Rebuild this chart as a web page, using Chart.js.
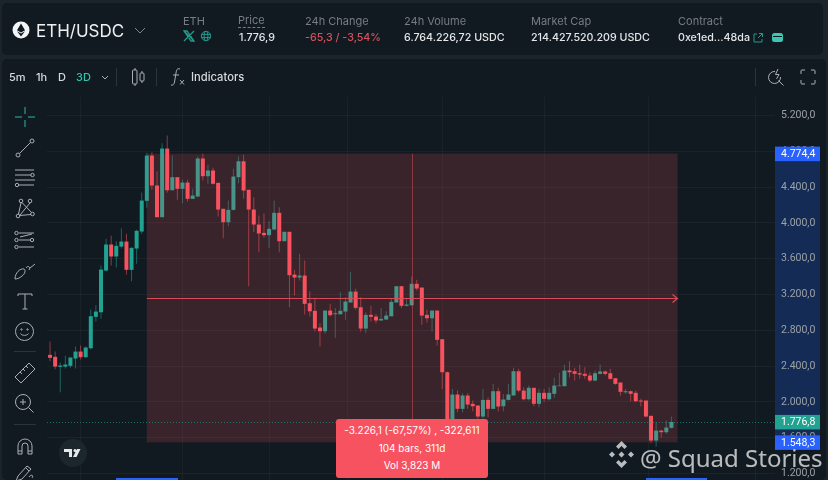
<!DOCTYPE html>
<html><head><meta charset="utf-8">
<script src="https://cdn.jsdelivr.net/npm/chart.js@4/dist/chart.umd.min.js"></script>
<style>
html,body{margin:0;padding:0;width:828px;height:480px;overflow:hidden;background:#1a242a;font-family:Inter,Roboto,sans-serif}
#wrap{position:relative;width:828px;height:480px;overflow:hidden}
.panel{position:absolute;background:#101a20;border-radius:5px}
canvas{position:absolute;left:0;top:0}
.t{position:absolute;white-space:nowrap;line-height:14px}
.l{color:#777d82;font-size:11px}
.v{color:#e4e6e8;font-size:10.7px;font-weight:500}
svg.i{position:absolute;overflow:visible;fill:none;stroke:#aab0b5;stroke-width:1}
#tip{position:absolute;left:336px;top:419px;width:152px;height:59px;background:#f7525f;border-radius:3px;color:#fff;font-size:10px;text-align:center;line-height:17.5px;padding-top:3px;box-sizing:border-box}
#wm{position:absolute;left:640px;top:441px;font:24px "Noto Sans",sans-serif;color:rgba(235,235,235,.78);white-space:nowrap}
.strip{position:absolute;top:478px;height:2px;background:#2962ff}
</style></head><body><div id="wrap">
<div class="panel" style="left:2px;top:3px;width:821px;height:52px"></div>
<div class="panel" style="left:2px;top:59px;width:824px;height:421px"></div>
<canvas id="c" width="828" height="480"></canvas>

<svg class="i" style="left:12px;top:21px" width="18" height="18"><circle cx="9" cy="9" r="8.5" fill="#f4f5f6" stroke="none"/><path d="M9 2.5L5 9.2L9 11.5L13 9.2Z M5 10.2L9 15.5L13 10.2L9 12.6Z" fill="#101a20" stroke="none"/></svg>
<div class="t" style="left:36px;top:21px;line-height:20px;font-size:17px;color:#eef0f1">ETH/USDC</div>
<svg class="i" style="left:134px;top:27px" width="12" height="7"><path d="M1 1L6 6L11 1" stroke="#7d8488"/></svg>
<div class="t l" style="left:183px;top:14px">ETH</div>
<svg class="i" style="left:184px;top:31px;stroke:#259a8c;stroke-width:1.3" width="10" height="10"><path d="M0 0L10 10M10 0L0 10M0 0H3L10 10H7Z"/></svg>
<svg class="i" style="left:201px;top:31px;stroke:#259a8c" width="10" height="10"><circle cx="5" cy="5" r="4.7"/><ellipse cx="5" cy="5" rx="2" ry="4.7"/><path d="M0.5 3.4H9.5M0.5 6.6H9.5"/></svg>
<div class="t l" style="left:238px;top:14px;border-bottom:1px dashed #777d82;line-height:13px">Price</div>
<div class="t v" style="left:239px;top:31px">1.776,9</div>
<div class="t l" style="left:305px;top:14px">24h Change</div>
<div class="t v" style="left:305px;top:31px;color:#d9505c">-65,3 / -3,54%</div>
<div class="t l" style="left:404px;top:14px">24h Volume</div>
<div class="t v" style="left:404px;top:31px">6.764.226,72 USDC</div>
<div class="t l" style="left:531px;top:14px">Market Cap</div>
<div class="t v" style="left:531px;top:31px">214.427.520.209 USDC</div>
<div class="t l" style="left:678px;top:14px">Contract</div>
<div class="t v" style="left:678px;top:31px">0xe1ed...48da</div>
<svg class="i" style="left:753px;top:33px;stroke:#259a8c" width="10" height="10"><path d="M4 1H1V9H9V6M5 5L9.5 .5M6 .5H9.5V4"/></svg>
<svg class="i" style="left:772px;top:33px" width="11" height="9"><rect x="0" y="0" width="11" height="9" rx="2.5" fill="#3fc6b2" stroke="none"/><path d="M1 3.5H10" stroke="#101a20"/></svg>

<div class="t" style="left:9px;top:70px;font-size:11px;font-weight:500;color:#d8dadc">5m</div>
<div class="t" style="left:36px;top:70px;font-size:11px;font-weight:500;color:#d8dadc">1h</div>
<div class="t" style="left:58px;top:70px;font-size:11px;font-weight:500;color:#d8dadc">D</div>
<div class="t" style="left:76px;top:70px;font-size:11px;font-weight:500;color:#2fc4ad">3D</div>
<svg class="i" style="left:101px;top:75px" width="8" height="5"><path d="M1 1L4 4L7 1" stroke="#aab0b5"/></svg>
<svg class="i" style="left:116px;top:68px" width="2" height="18"><path d="M.5 0V18" stroke="#2a343a"/></svg>
<svg class="i" style="left:132px;top:68px" width="14" height="18"><path d="M3 0V2M3 16V18M10 3V5M10 13V15"/><rect x=".5" y="2" width="4.5" height="14" rx="1"/><rect x="8" y="5" width="4" height="8" rx="1"/></svg>
<svg class="i" style="left:156px;top:68px" width="2" height="18"><path d="M.5 0V18" stroke="#2a343a"/></svg>
<svg class="i" style="left:171px;top:68px" width="14" height="18"><path d="M9 1C6 0 5.5 2 5 5L3.5 14C3 16.5 2 17.5 0 17M2 7H8M9 12L13 16.5M13 12L9 16.5"/></svg>
<div class="t" style="left:191px;top:70px;font-size:11.2px;font-weight:500;color:#d8dadc">Indicators</div>
<svg class="i" style="left:755px;top:68px" width="2" height="18"><path d="M.5 0V18" stroke="#2a343a"/></svg>
<svg class="i" style="left:768px;top:68px" width="16" height="18"><path d="M7 3.5A6 6 0 1 0 12.5 9M10.5 12.5L15.5 17.5M10 1L7.5 6.5H11L8.5 11"/></svg>
<svg class="i" style="left:801px;top:70px" width="14" height="14"><path d="M0 4V1Q0 0 1 0H4M10 0H13Q14 0 14 1V4M14 10V13Q14 14 13 14H10M4 14H1Q0 14 0 13V10"/></svg>

<svg class="i" style="left:15px;top:107px;stroke:#2fb5a2" width="20" height="20"><path d="M0 10H7M13 10H20M10 0V7M10 13V20"/></svg>
<svg class="i" style="left:15px;top:138px" width="20" height="20"><circle cx="3" cy="17" r="2"/><circle cx="17" cy="3" r="2"/><path d="M4.5 15.5L15.5 4.5"/></svg>
<svg class="i" style="left:14px;top:169px" width="22" height="18"><path d="M1 1H20M1 6H17M1 11H21M5 16H20" /><circle cx="18.5" cy="6" r="1.7"/><circle cx="3" cy="16" r="1.7"/></svg>
<svg class="i" style="left:15px;top:199px" width="20" height="20"><circle cx="3" cy="17" r="1.8"/><circle cx="6" cy="2" r="1.8"/><circle cx="15" cy="2" r="1.8"/><circle cx="17.5" cy="15" r="1.8"/><path d="M3.5 15L6 4M7 3.5L16.5 13.5M15 4L5 16M4.5 16.5L16 15.5" /></svg>
<svg class="i" style="left:14px;top:231px" width="22" height="18"><circle cx="2.5" cy="2" r="1.7"/><circle cx="2.5" cy="9" r="1.7"/><circle cx="2.5" cy="16" r="1.7"/><circle cx="18" cy="9" r="1.7"/><path d="M5 2H20M5 9H16M5 16H20M6 6L18 3" /></svg>
<svg class="i" style="left:14px;top:262px" width="22" height="18"><path d="M1 17C1 11 6 6 10 7C12 8 11 12 8 14C6 16 3 17 1 17ZM12 6C14 3 17 5 15 8M16 6L21 2"/></svg>
<svg class="i" style="left:17px;top:293px" width="16" height="17"><path d="M1 3V1H15V3M8 1V16M5.5 16H10.5"/></svg>
<svg class="i" style="left:15px;top:322px" width="19" height="19"><circle cx="9.5" cy="9.5" r="9"/><circle cx="6.5" cy="7.5" r=".7"/><circle cx="12.5" cy="7.5" r=".7"/><path d="M5.5 11.5C7 14 12 14 13.5 11.5"/></svg>
<svg class="i" style="left:14px;top:351px" width="22" height="2"><path d="M0 .5H22" stroke="#2a343a"/></svg>
<svg class="i" style="left:15px;top:363px" width="20" height="20"><path d="M0 14L14 0L20 6L6 20ZM5 9L7 11M8 6L10 8M11 3L13 5"/></svg>
<svg class="i" style="left:15px;top:394px" width="19" height="19"><circle cx="8" cy="8" r="7.5"/><path d="M13.5 13.5L18.5 18.5M8 5V11M5 8H11"/></svg>
<svg class="i" style="left:14px;top:424px" width="22" height="2"><path d="M0 .5H22" stroke="#2a343a"/></svg>
<svg class="i" style="left:17px;top:438px" width="16" height="17"><path d="M1 16V8A7 7 0 0 1 15 8V16H11V8A3 3 0 0 0 5 8V16ZM1 13H5M11 13H15"/></svg>
<svg class="i" style="left:15px;top:465px" width="20" height="17"><path d="M1 16L3 11L12 1L16 4L7 14ZM11 3L14 6M14 12C16 9 19 10 17 13"/></svg>

<svg class="i" style="left:59px;top:439px;stroke:none" width="28" height="28"><circle cx="14" cy="14" r="14" fill="#1c272d"/><path d="M5 10H13V18H10V13H5ZM14 18L18 10H21.5L17.5 18Z" fill="#e8e9ea"/><circle cx="16" cy="11.5" r="1.5" fill="#e8e9ea"/></svg>
<div class="strip" style="left:116px;width:62px"></div>
<div class="strip" style="left:646px;width:61px"></div>

<div id="tip">-3.226,1 (-67,57%) , -322,611<br>104 bars, 311d<br>Vol 3,823 M</div>
<svg class="i" style="left:607px;top:440px;stroke:none" width="29" height="29"><g fill="rgba(235,235,235,.78)"><path d="M14.5 1L20 6.5L17.5 9L14.5 6L11.5 9L9 6.5Z M14.5 28L20 22.5L17.5 20L14.5 23L11.5 20L9 22.5Z M2 14.5L5 11.5L8 14.5L5 17.5Z M21 14.5L24 11.5L27 14.5L24 17.5Z M14.5 11.5L17.5 14.5L14.5 17.5L11.5 14.5Z"/></g></svg>
<div id="wm">@ Squad Stories</div>
</div>
<script>
const opens=[2526,2504,2392,2395,2403,2485,2563,2500,2600,2951,3002,3468,3759,3625,3736,3792,3476,3714,3904,4247,4753,4418,4064,4831,4365,4511,4381,4451,4269,4295,4720,4522,4586,4448,4158,4008,4146,4511,4689,4370,4150,3982,3889,3863,3926,4113,3796,3901,3423,3390,3412,3103,3018,2831,2790,3021,2980,2980,3010,3111,3233,3058,2820,2973,2954,2910,2921,2957,3111,3293,3074,3081,3320,3278,2973,2935,3021,2701,2332,1803,2083,1923,2072,1979,1960,1837,2023,1923,2120,1952,2023,2072,2343,2127,2030,2158,1979,2102,2030,2091,2176,2176,2351,2343,2321,2314,2295,2239,2314,2340,2321,2265,2217,2108,2120,2102,2016,2016,1845,1569,1680,1662,1711];
const closes=[2493,2395,2407,2418,2496,2563,2500,2608,2958,3010,3479,3759,3625,3744,3792,3476,3722,3912,4250,4753,4418,4064,4831,4365,4511,4381,4451,4269,4306,4720,4522,4586,4437,4150,4008,4146,4518,4689,4362,4150,3982,3882,3863,3934,4113,3796,3901,3416,3390,3412,3096,3013,2820,2790,3021,2969,2991,3018,3122,3233,3051,2820,2973,2951,2910,2928,2965,3118,3293,3074,3088,3320,3267,2965,2935,3021,2694,2332,1792,2083,1923,2072,1971,1952,1837,2023,1923,2120,1949,2027,2083,2343,2127,2030,2158,1979,2102,2035,2102,2183,2183,2351,2332,2314,2306,2292,2239,2321,2340,2314,2258,2202,2113,2120,2091,2008,2005,1837,1569,1680,1662,1714,1776.8];
const highs=[2675,2563,2440,2515,2500,2619,2630,2619,3032,3080,3524,3822,3856,3796,3941,3878,3725,3923,4340,4783,4790,4574,4890,4977,4753,4511,4482,4482,4381,4742,4772,4649,4616,4448,4158,4250,4605,4742,4761,4370,4287,4083,4105,4016,4250,4175,3901,3901,3476,3655,3580,3237,3163,2879,3021,3096,3051,3226,3170,3454,3264,3170,3002,3074,2984,3051,3013,3152,3293,3293,3163,3401,3364,3278,3029,3021,3021,2701,2340,2146,2127,2097,2097,2016,1960,2146,2053,2202,2158,2090,2202,2381,2370,2164,2183,2158,2146,2146,2164,2269,2325,2415,2455,2381,2418,2388,2332,2351,2418,2351,2370,2265,2217,2146,2127,2127,2035,2016,1845,1773,1688,1792,1837];
const lows=[2455,2365,2108,2373,2381,2373,2474,2493,2589,2898,2929,3457,3524,3502,3714,3423,3349,3543,3878,4169,4370,4064,4064,4340,4365,4258,4220,4239,4269,4287,4474,4437,4429,4072,3829,3963,4139,4443,4269,3293,3896,3673,3834,3717,3926,3673,3796,3058,3189,3356,2976,2954,2787,2619,2761,2954,2716,2977,2917,3111,3029,2783,2768,2895,2880,2910,2917,2957,3111,3051,3066,3074,3245,2862,2887,2787,2630,2146,1770,1770,1885,1885,1923,1896,1811,1815,1829,1923,1896,1896,2016,2072,2108,2016,2016,1952,1941,2001,2016,2046,2176,2176,2276,2239,2258,2258,2220,2231,2306,2295,2247,2191,2072,2091,2008,1997,1949,1829,1539,1502,1599,1644,1703];
const priceTicks=[5200,4800,4400,4000,3600,3200,2800,2400,2000,1600,1200];
const gridBars=[16,36,50,67,87,107,128];
const lastPrice=1776.8, rangeHigh=4774.4, rangeLow=1548.3, rangeStart=19, rangeEnd=123, rangeMidBar=71;

const fmt=(v,d=1)=>v.toLocaleString('de-DE',{minimumFractionDigits:d,maximumFractionDigits:d});
const UP='#22a392', DOWN='#f7525f', UPW='rgba(34,163,146,.55)', DOWNW='rgba(247,82,95,.55)';
const isUp=i=>closes[i]>=opens[i];

const overlay={
  id:'overlay',
  beforeDraw(c){
    const y=c.scales.y, g=c.ctx;
    g.save(); g.fillStyle='#142c55';
    g.fillRect(775,y.getPixelForValue(rangeHigh),45,y.getPixelForValue(rangeLow)-y.getPixelForValue(rangeHigh));
    g.restore();
  },
  afterDatasetsDraw(c){
    const x=c.scales.x,y=c.scales.y,g=c.ctx;
    const xa=x.getPixelForValue(rangeStart),xb=x.getPixelForValue(rangeEnd)+1;
    const ya=y.getPixelForValue(rangeHigh),yb=y.getPixelForValue(rangeLow);
    g.save();
    g.fillStyle='rgba(247,82,95,.18)';
    g.fillRect(xa,ya,xb-xa,yb-ya);
    const ym=Math.round(y.getPixelForValue((rangeHigh+rangeLow)/2)),xm=Math.round(x.getPixelForValue(rangeMidBar));
    g.strokeStyle='rgba(247,82,95,.45)'; g.lineWidth=1;
    g.beginPath();g.moveTo(xm+.5,ya);g.lineTo(xm+.5,yb);g.stroke();
    g.strokeStyle='#d94a58'; g.lineWidth=1.2;
    g.beginPath();g.moveTo(xa,ym+.5);g.lineTo(xb,ym+.5);
    g.moveTo(xb-5,ym-3.5);g.lineTo(xb,ym+.5);g.lineTo(xb-5,ym+4.5);g.stroke();
    const yl=Math.round(y.getPixelForValue(lastPrice))+.5;
    g.strokeStyle='rgba(34,163,146,.6)';g.lineWidth=1;g.setLineDash([1,2]);
    g.beginPath();g.moveTo(c.chartArea.left,yl);g.lineTo(c.chartArea.right,yl);g.stroke();
    g.restore();
  },
  afterDraw(c){
    const y=c.scales.y,g=c.ctx;
    const tag=(v,col)=>{
      const p=y.getPixelForValue(v);
      g.fillStyle=col; g.fillRect(775,p-7,45,14.5);
      g.fillStyle='#fff'; g.font='10.5px Roboto,sans-serif'; g.textBaseline='middle'; g.textAlign='left';
      g.fillText(fmt(v),781,p+.5);
    };
    g.save();
    tag(rangeHigh,'#2962ff'); tag(lastPrice,'#22a392'); tag(rangeLow,'#2962ff');
    g.restore();
  }
};

new Chart(document.getElementById('c'),{
  type:'bar',
  data:{datasets:[
    {data:opens.map((o,i)=>({x:i,y:[o,closes[i]]})),backgroundColor:opens.map((_,i)=>isUp(i)?UP:DOWN),barThickness:4,grouped:false,borderWidth:0,inflateAmount:0},
    {data:lows.map((l,i)=>({x:i,y:[l,highs[i]]})),backgroundColor:lows.map((_,i)=>isUp(i)?UPW:DOWNW),barThickness:1,grouped:false,borderWidth:0,inflateAmount:0}
  ]},
  plugins:[overlay],
  options:{
    responsive:false,animation:false,events:[],devicePixelRatio:1,
    layout:{padding:{left:47,top:97,right:0,bottom:0}},
    plugins:{legend:{display:false},tooltip:{enabled:false}},
    scales:{
      x:{type:'linear',min:-0.6,max:142.34,offset:false,
        afterBuildTicks:s=>{s.ticks=gridBars.map(v=>({value:v}));},
        afterFit:s=>{s.height=0;s.paddingLeft=0;s.paddingRight=0;},
        ticks:{display:false},grid:{color:'rgba(255,255,255,.035)',drawTicks:false},border:{display:false}},
      y:{type:'linear',position:'right',min:1128,max:5407,
        afterBuildTicks:s=>{s.ticks=priceTicks.map(v=>({value:v}));},
        afterFit:s=>{s.width=53;s.paddingTop=0;s.paddingBottom=0;},
        ticks:{color:'#9ca1a6',padding:6,font:{size:10.5,family:'Roboto,sans-serif'},callback:v=>fmt(v)},
        grid:{color:'rgba(255,255,255,.045)',drawTicks:false},border:{display:false}}
    }
  }
});
</script></body></html>
